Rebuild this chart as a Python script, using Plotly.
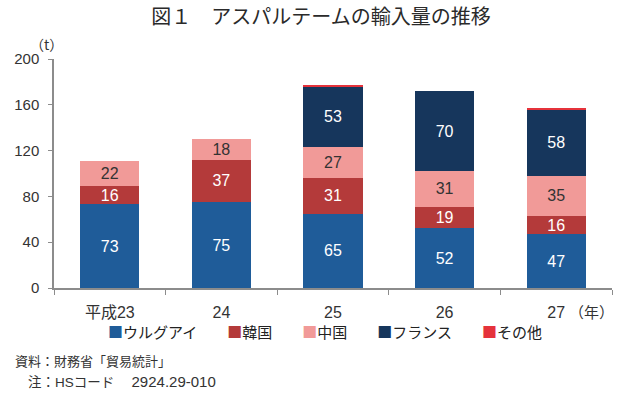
import plotly.graph_objects as go

years = ["平成23", "24", "25", "26", "27"]
uruguay = [73, 75, 65, 52, 47]
korea = [16, 37, 31, 19, 16]
china = [22, 18, 27, 31, 35]
france = [0, 0, 53, 70, 58]
other = [0, 0, 1, 0, 0.7]

series_names = ["ウルグアイ", "韓国", "中国", "フランス", "その他"]
series_values = [uruguay, korea, china, france, other]
series_colors = ["#1f5c99", "#b43a3a", "#f19a98", "#16365c", "#e5323b"]
label_colors = ["white", "white", "#333333", "white", "white"]

FONT = "Liberation Sans, Arial, Noto Sans CJK JP, sans-serif"
CJK = "Noto Sans CJK JP, sans-serif"

fig = go.Figure()
for name, vals, color, tcolor in zip(series_names, series_values, series_colors, label_colors):
    show_text = name != "その他"
    fig.add_trace(go.Bar(
        name=name, x=years, y=vals,
        marker=dict(color=color, line=dict(width=0)),
        text=[str(v) if (show_text and v > 0) else "" for v in vals],
        textposition="inside", insidetextanchor="middle",
        textfont=dict(size=16, color=tcolor, family=FONT),
        constraintext="none",
        hoverinfo="skip",
        showlegend=False,
    ))

fig.update_layout(
    barmode="stack",
    bargap=0.47,
    width=617, height=394,
    margin=dict(l=54, r=5, t=59, b=106, autoexpand=False),
    paper_bgcolor="white", plot_bgcolor="white",
    font=dict(family=FONT, size=15, color="#333333"),
    title=dict(text="図１　アスパルテームの輸入量の推移", x=321 / 617, xanchor="center",
               y=1 - 17 / 394, yanchor="middle",
               font=dict(size=20, color="#2a2a2a", family=CJK)),
    showlegend=False,
    xaxis=dict(showline=True, linecolor="#8c8c8c", linewidth=1.5, automargin=False,
               ticks="outside", tickson="boundaries", ticklen=5, tickcolor="#8c8c8c",
               tickfont=dict(size=16, color="#333333", family=FONT), showgrid=False,
               ticklabelstandoff=9),
    yaxis=dict(range=[0, 200], dtick=40, showline=True, linecolor="#8c8c8c", linewidth=1.5,
               automargin=False,
               ticks="outside", ticklen=4, tickcolor="#8c8c8c", showgrid=False, zeroline=False,
               tickfont=dict(size=15, color="#333333", family=FONT), ticklabelstandoff=6),
)

# legend as one text line built from the series names / colours
legend_text = "　　".join(
    f'<span style="color:{c}">■</span>{n}' for n, c in zip(series_names, series_colors)
)
fig.add_annotation(text=legend_text, xref="paper", yref="paper",
                   x=(325 - 54) / 557.5, y=0, yshift=-43, xanchor="center", yanchor="middle",
                   showarrow=False, font=dict(size=15, color="#222222", family=CJK))

fig.add_annotation(text="（t）", xref="paper", yref="paper", x=0, xshift=-8, y=1,
                   yshift=15, xanchor="center", yanchor="middle", showarrow=False,
                   font=dict(size=14, color="#333333", family=CJK))
fig.add_annotation(text="（年）", xref="paper", yref="paper", x=1.0, xshift=4, y=0, yshift=-23,
                   xanchor="right", yanchor="middle", showarrow=False,
                   font=dict(size=15, color="#333333", family=CJK))
fig.add_annotation(text="資料：財務省「貿易統計」", xref="paper", yref="paper",
                   x=0, xshift=-41, y=0, yshift=-73, xanchor="left", yanchor="middle",
                   showarrow=False,
                   font=dict(size=13, color="#333333", family=FONT))
fig.add_annotation(text='注：HSコード　 <span style="font-size:15px">2924.29-010</span>',
                   xref="paper", yref="paper",
                   x=0, xshift=-28, y=0, yshift=-93, xanchor="left", yanchor="middle",
                   showarrow=False,
                   font=dict(size=13.5, color="#333333", family=FONT))

fig.write_html("out.html",
               config={"displayModeBar": False},
               post_script="document.body.style.margin='0';document.body.style.overflow='hidden';")
